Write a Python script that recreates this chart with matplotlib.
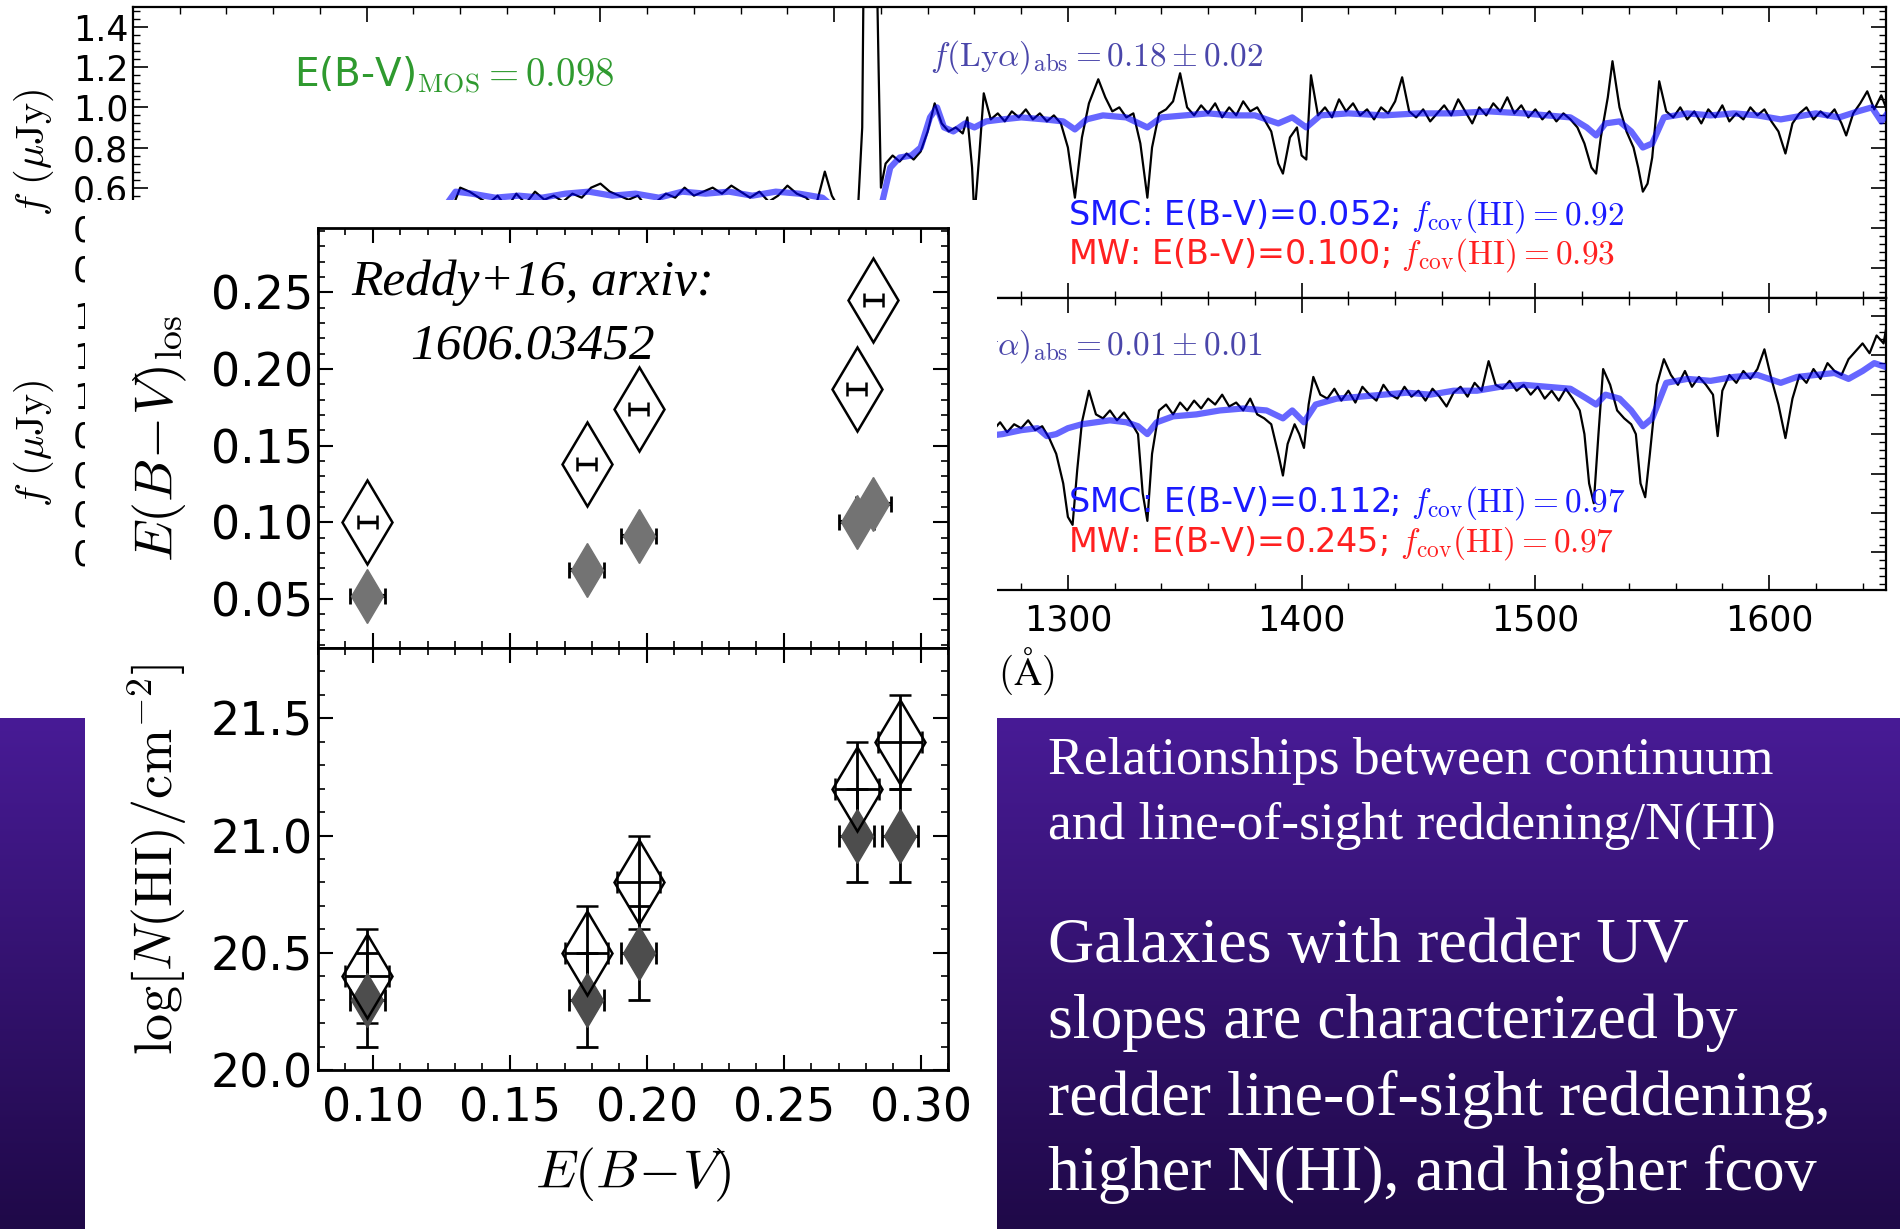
import numpy as np
import matplotlib
matplotlib.use('Agg')
import matplotlib.pyplot as plt
from matplotlib.patches import Rectangle
from matplotlib.ticker import MultipleLocator

plt.rcParams['mathtext.fontset'] = 'cm'
plt.rcParams['font.family'] = ['DejaVu Sans']

# ---- spectrum 1: E(B-V)=0.098 composite (observed, black) ----
wave_1 = [1030, 1036, 1040, 1044, 1048, 1052, 1056, 1060, 1064, 1068, 1072, 1076, 1080, 1084, 1088, 1092,
          1096, 1100, 1104, 1108, 1112, 1116, 1120, 1124, 1128, 1132, 1136, 1140, 1144, 1148, 1152, 1156,
          1160, 1164, 1168, 1172, 1176, 1180, 1184, 1188, 1192, 1196, 1199, 1203, 1207, 1210, 1212, 1213,
          1215, 1217, 1219, 1220, 1222, 1225, 1228, 1231, 1234, 1237, 1240, 1243, 1246, 1249, 1252, 1255,
          1257, 1259, 1260, 1262, 1264, 1267, 1270, 1273, 1276, 1279, 1282, 1285, 1288, 1291, 1294, 1297,
          1300, 1303, 1306, 1309, 1313, 1316, 1319, 1322, 1325, 1328, 1331, 1334, 1336, 1339, 1342, 1345,
          1348, 1351, 1354, 1357, 1360, 1363, 1366, 1369, 1372, 1375, 1378, 1381, 1384, 1387, 1390, 1392,
          1395, 1398, 1400, 1402, 1404, 1407, 1410, 1413, 1416, 1419, 1422, 1425, 1428, 1431, 1434, 1437,
          1440, 1443, 1446, 1449, 1452, 1455, 1458, 1461, 1464, 1467, 1470, 1473, 1476, 1479, 1482, 1485,
          1488, 1491, 1494, 1497, 1500, 1503, 1506, 1509, 1512, 1515, 1518, 1521, 1524, 1526, 1528, 1531,
          1533, 1536, 1539, 1542, 1544, 1546, 1548, 1550, 1553, 1556, 1559, 1562, 1565, 1568, 1571, 1574,
          1577, 1580, 1583, 1586, 1589, 1592, 1595, 1598, 1601, 1604, 1607, 1610, 1613, 1616, 1619, 1622,
          1625, 1628, 1631, 1633, 1636, 1639, 1642, 1645, 1648, 1650]
flux_1 = [0.40, 0.48, 0.60, 0.58, 0.55, 0.52, 0.56, 0.50, 0.57, 0.52, 0.58, 0.54, 0.56, 0.53, 0.57, 0.55,
          0.60, 0.62, 0.58, 0.56, 0.54, 0.56, 0.50, 0.53, 0.57, 0.55, 0.60, 0.56, 0.58, 0.60, 0.57, 0.61,
          0.58, 0.55, 0.58, 0.53, 0.56, 0.61, 0.57, 0.55, 0.50, 0.68, 0.56, 0.48, 0.40, 0.45, 0.90, 2.20,
          3.00, 2.50, 1.20, 0.60, 0.72, 0.76, 0.73, 0.77, 0.74, 0.78, 0.88, 1.02, 0.92, 0.88, 0.90, 0.87,
          0.95, 0.70, 0.45, 0.75, 1.07, 0.94, 0.97, 0.93, 0.98, 0.95, 0.99, 0.94, 0.97, 0.93, 0.96, 0.92,
          0.80, 0.55, 0.85, 1.02, 1.14, 1.05, 0.98, 1.00, 0.95, 0.97, 0.82, 0.55, 0.80, 0.97, 0.99, 1.03,
          1.17, 1.00, 0.96, 1.01, 0.97, 1.02, 0.95, 1.00, 0.96, 1.03, 0.98, 1.00, 0.94, 0.88, 0.72, 0.67,
          0.85, 0.90, 0.76, 0.74, 1.16, 0.96, 1.00, 0.95, 1.04, 0.98, 1.02, 0.96, 0.99, 0.94, 1.00, 0.97,
          1.03, 1.15, 0.98, 0.95, 0.99, 0.93, 0.97, 1.01, 0.96, 1.04, 0.98, 0.92, 1.00, 0.96, 1.02, 0.98,
          1.05, 0.97, 1.01, 0.95, 0.99, 0.94, 0.98, 0.93, 0.97, 0.94, 0.90, 0.82, 0.70, 0.67, 0.85, 1.05,
          1.23, 1.00, 0.88, 0.80, 0.70, 0.58, 0.62, 0.75, 1.13, 0.98, 0.95, 1.00, 0.94, 0.98, 0.92, 0.99,
          0.95, 1.01, 0.93, 0.97, 0.94, 1.00, 0.96, 0.99, 0.93, 0.88, 0.77, 0.92, 0.97, 1.00, 0.94, 0.98,
          0.95, 0.99, 0.92, 0.86, 0.97, 1.02, 1.08, 0.99, 1.06, 1.00]
# SMC model (blue)
wave_1_model = [1030, 1038, 1045, 1055, 1065, 1075, 1085, 1095, 1105, 1115, 1125, 1135, 1145, 1155, 1165,
                1175, 1185, 1195, 1205, 1212, 1216, 1220, 1224, 1228, 1233, 1237, 1241, 1244, 1247, 1251,
                1256, 1260, 1265, 1272, 1280, 1290, 1298, 1303, 1308, 1315, 1325, 1334, 1340, 1350, 1360,
                1370, 1380, 1390, 1396, 1402, 1408, 1420, 1435, 1450, 1465, 1480, 1495, 1505, 1515, 1522,
                1526, 1530, 1536, 1541, 1546, 1550, 1555, 1565, 1575, 1585, 1595, 1605, 1610, 1620, 1630,
                1638, 1644, 1648, 1650]
flux_1_model = [0.45, 0.58, 0.57, 0.55, 0.56, 0.55, 0.57, 0.58, 0.56, 0.57, 0.55, 0.58, 0.57, 0.58, 0.56,
                0.58, 0.57, 0.55, 0.45, 0.35, 0.30, 0.50, 0.70, 0.75, 0.76, 0.80, 0.95, 1.00, 0.90, 0.88,
                0.92, 0.90, 0.93, 0.94, 0.95, 0.94, 0.93, 0.89, 0.94, 0.96, 0.95, 0.90, 0.95, 0.96, 0.97,
                0.96, 0.96, 0.92, 0.95, 0.90, 0.96, 0.97, 0.96, 0.97, 0.97, 0.98, 0.97, 0.96, 0.95, 0.90,
                0.86, 0.92, 0.93, 0.88, 0.80, 0.82, 0.95, 0.97, 0.96, 0.97, 0.96, 0.94, 0.95, 0.97, 0.95,
                0.98, 1.00, 0.93, 0.96]

# ---- spectrum 2: reddest composite (observed, black) ----
wave_2 = [1265, 1268, 1271, 1274, 1277, 1280, 1283, 1286, 1289, 1292, 1295, 1298, 1300, 1302, 1304, 1306,
          1309, 1312, 1315, 1318, 1321, 1324, 1327, 1330, 1332, 1334, 1336, 1339, 1342, 1345, 1348, 1351,
          1354, 1357, 1360, 1363, 1366, 1369, 1372, 1375, 1378, 1381, 1384, 1387, 1390, 1392, 1394, 1397,
          1399, 1401, 1403, 1405, 1408, 1411, 1414, 1417, 1420, 1423, 1426, 1429, 1432, 1435, 1438, 1441,
          1444, 1447, 1450, 1453, 1456, 1459, 1462, 1465, 1468, 1471, 1474, 1477, 1480, 1483, 1486, 1489,
          1492, 1495, 1498, 1501, 1504, 1507, 1510, 1513, 1516, 1519, 1521, 1523, 1525, 1527, 1529, 1532,
          1535, 1538, 1541, 1543, 1545, 1547, 1549, 1552, 1555, 1558, 1561, 1564, 1567, 1570, 1573, 1576,
          1578, 1580, 1583, 1586, 1589, 1592, 1595, 1598, 1601, 1604, 1607, 1610, 1613, 1616, 1619, 1622,
          1625, 1628, 1631, 1634, 1637, 1640, 1643, 1646, 1649, 1650]
flux_2 = [0.84, 0.82, 0.86, 0.81, 0.85, 0.83, 0.87, 0.82, 0.84, 0.78, 0.70, 0.55, 0.38, 0.34, 0.62, 0.86,
          1.02, 0.90, 0.88, 0.92, 0.87, 0.91, 0.86, 0.80, 0.50, 0.36, 0.70, 0.92, 0.95, 0.90, 0.96, 0.92,
          0.97, 0.93, 0.98, 0.95, 1.00, 0.94, 0.96, 0.92, 0.98, 0.90, 0.88, 0.85, 0.70, 0.59, 0.75, 0.85,
          0.80, 0.73, 0.95, 1.09, 1.00, 0.98, 1.03, 0.97, 1.02, 0.96, 1.04, 1.00, 0.97, 1.05, 1.00, 0.98,
          1.04, 0.99, 1.02, 0.97, 1.03, 0.99, 0.94, 1.01, 1.04, 0.99, 1.06, 1.02, 1.17, 1.05, 1.03, 1.07,
          1.02, 1.05, 1.00, 1.04, 0.98, 1.02, 0.97, 1.03, 0.98, 0.92, 0.80, 0.55, 0.45, 0.80, 1.13, 1.05,
          0.92, 0.88, 0.85, 0.80, 0.55, 0.48, 0.70, 1.05, 1.18, 1.10, 1.05, 1.12, 1.04, 1.09, 1.05, 1.00,
          0.79, 1.02, 1.10, 1.06, 1.12, 1.08, 1.13, 1.23, 1.08, 0.95, 0.78, 0.98, 1.10, 1.06, 1.13, 1.08,
          1.16, 1.12, 1.10, 1.18, 1.22, 1.26, 1.21, 1.30, 1.26, 1.33]
wave_2_model = [1265, 1272, 1280, 1287, 1291, 1295, 1300, 1306, 1312, 1318, 1325, 1330, 1334, 1338, 1345,
                1355, 1365, 1375, 1385, 1392, 1396, 1401, 1406, 1415, 1425, 1435, 1445, 1455, 1465, 1475,
                1485, 1495, 1505, 1515, 1522, 1526, 1530, 1536, 1541, 1546, 1550, 1556, 1565, 1575, 1585,
                1595, 1605, 1612, 1620, 1628, 1634, 1640, 1645, 1650]
flux_2_model = [0.79, 0.80, 0.82, 0.83, 0.79, 0.80, 0.83, 0.85, 0.86, 0.87, 0.86, 0.84, 0.80, 0.86, 0.89,
                0.90, 0.92, 0.93, 0.92, 0.88, 0.92, 0.86, 0.95, 0.98, 0.99, 1.00, 1.01, 1.00, 1.02, 1.02,
                1.04, 1.05, 1.04, 1.03, 0.98, 0.95, 1.00, 0.98, 0.92, 0.84, 0.88, 1.06, 1.08, 1.07, 1.09,
                1.10, 1.06, 1.09, 1.10, 1.11, 1.08, 1.12, 1.16, 1.14]

# ---- Reddy+16 line-of-sight reddening and N(HI) ----
ebv_upper = [0.098, 0.178, 0.197, 0.2766, 0.2827]
ebv_los_mw = [0.100, 0.138, 0.174, 0.187, 0.245]
ebv_los_mw_xerr = [0.0035, 0.0035, 0.0035, 0.0035, 0.0035]
ebv_los_smc = [0.052, 0.069, 0.091, 0.100, 0.112]
ebv_los_smc_xerr = [0.0065, 0.0065, 0.0065, 0.0065, 0.0065]

ebv_lower = [0.098, 0.178, 0.197, 0.2766, 0.2925]
nhi_mw = [20.4, 20.5, 20.8, 21.2, 21.4]
nhi_mw_err = [0.2, 0.2, 0.2, 0.2, 0.2]
nhi_mw_xerr = [0.008, 0.008, 0.008, 0.008, 0.008]
nhi_smc = [20.3, 20.3, 20.5, 21.0, 21.0]
nhi_smc_err = [0.2, 0.2, 0.2, 0.2, 0.2]

box_lines_top = ["Relationships between continuum", "and line-of-sight reddening/N(HI)"]
box_lines_main = ["Galaxies with redder UV", "slopes are characterized by",
                  "redder line-of-sight reddening,", "higher N(HI), and higher fcov"]

fig = plt.figure(figsize=(19, 12.29), dpi=100)
fig.patch.set_facecolor('white')

# purple slide background (bottom band)
ax_bg = fig.add_axes([0, 0, 1, 0.4158], zorder=-1)
top_c = np.array([72, 27, 150]) / 255.
bot_c = np.array([31, 9, 72]) / 255.
t = np.linspace(0, 1, 256)[:, None]
grad = (1 - t) * top_c + t * bot_c
ax_bg.imshow(grad[:, None, :].repeat(2, axis=1), aspect='auto', extent=[0, 1, 0, 1])
ax_bg.axis('off')


def style_spec(ax):
    ax.set_xlim(900, 1650)
    ax.xaxis.set_major_locator(MultipleLocator(100))
    ax.xaxis.set_minor_locator(MultipleLocator(20))
    ax.yaxis.set_major_locator(MultipleLocator(0.2))
    ax.yaxis.set_minor_locator(MultipleLocator(0.04))
    ax.tick_params(which='both', direction='in', top=True, right=True, labelsize=25)
    ax.tick_params(which='major', length=11, width=1.2)
    ax.tick_params(axis='x', pad=10)
    ax.tick_params(which='minor', length=5, width=1)
    for s in ax.spines.values():
        s.set_linewidth(1.6)
    ax.set_ylabel(r'$f\ (\mu{\rm Jy})$', fontsize=29, labelpad=12)


ax_top = fig.add_axes([0.070, 0.7575, 0.9226, 0.2368])
ax_top.plot(wave_1, flux_1, color='k', lw=1.6, zorder=2)
ax_top.plot(wave_1_model, flux_1_model, color='blue', lw=4.5, alpha=0.6, zorder=3)
style_spec(ax_top)
ax_top.set_ylim(0.05, 1.5)
ax_top.tick_params(labelbottom=False)
ax_top.text(969, 1.10, r'E(B-V)$_{\rm MOS}=0.098$', color='#2f9a2f', fontsize=28)
ax_top.text(1241, 1.21, r'$f({\rm Ly}\alpha)_{\rm abs}=0.18\pm0.02$', color='#4a46aa', fontsize=24)
ax_top.text(1300, 0.415, r'SMC: E(B-V)=0.052; $f_{\rm cov}({\rm HI})=0.92$', color='#1a1aff', fontsize=24)
ax_top.text(1300, 0.22, r'MW: E(B-V)=0.100; $f_{\rm cov}({\rm HI})=0.93$', color='#ff2020', fontsize=24)

ax_mid = fig.add_axes([0.070, 0.520, 0.9226, 0.2375])
ax_mid.plot(wave_2, flux_2, color='k', lw=1.6, zorder=2)
ax_mid.plot(wave_2_model, flux_2_model, color='blue', lw=4.5, alpha=0.6, zorder=3)
style_spec(ax_mid)
ax_mid.set_ylim(0.01, 1.49)
ax_mid.set_xlabel(r'$\lambda\ ({\rm \AA})$', fontsize=28, labelpad=6)
ax_mid.text(1241, 1.205, r'$f({\rm Ly}\alpha)_{\rm abs}=0.01\pm0.01$', color='#4a46aa', fontsize=24)
ax_mid.text(1300, 0.405, r'SMC: E(B-V)=0.112; $f_{\rm cov}({\rm HI})=0.97$', color='#1a1aff', fontsize=24)
ax_mid.text(1300, 0.205, r'MW: E(B-V)=0.245; $f_{\rm cov}({\rm HI})=0.97$', color='#ff2020', fontsize=24)

# white pasted panel on top of the spectra
fig.add_artist(Rectangle((0.0447, 0), 0.48, 0.8373, transform=fig.transFigure,
                         facecolor='white', edgecolor='none', zorder=1))


def style_scatter(ax):
    ax.set_xlim(0.08, 0.31)
    ax.xaxis.set_major_locator(MultipleLocator(0.05))
    ax.xaxis.set_minor_locator(MultipleLocator(0.01))
    ax.tick_params(which='both', direction='in', top=True, right=True, labelsize=33)
    ax.tick_params(which='major', length=11, width=1.5)
    ax.tick_params(which='minor', length=5, width=1.2)
    for s in ax.spines.values():
        s.set_linewidth(2)


diamond = 'd'
ax_u = fig.add_axes([0.1674, 0.4727, 0.3316, 0.3418], zorder=2)
ax_u.errorbar(ebv_upper, ebv_los_smc, xerr=ebv_los_smc_xerr, fmt=diamond, ms=27, color='0.45',
              mec='0.45', ecolor='k', elinewidth=3, capsize=6, capthick=2)
ax_u.errorbar(ebv_upper, ebv_los_mw, xerr=ebv_los_mw_xerr, fmt=diamond, ms=43, mfc='none', mec='k',
              mew=1.8, ecolor='k', elinewidth=2.5, capsize=5, capthick=2)
style_scatter(ax_u)
ax_u.set_ylim(0.018, 0.292)
ax_u.yaxis.set_major_locator(MultipleLocator(0.05))
ax_u.yaxis.set_minor_locator(MultipleLocator(0.01))
ax_u.tick_params(labelbottom=False)
ax_u.set_ylabel(r'$E(B\!-\!V)_{\rm los}$', fontsize=39, labelpad=16)
ax_u.text(0.341, 0.84, 'Reddy+16, arxiv:', transform=ax_u.transAxes, ha='center', va='baseline',
          fontsize=37, family='Liberation Serif', style='italic')
ax_u.text(0.341, 0.69, '1606.03452', transform=ax_u.transAxes, ha='center', va='baseline',
          fontsize=37, family='Liberation Serif', style='italic')

ax_l = fig.add_axes([0.1674, 0.1294, 0.3316, 0.3433], zorder=2)
ax_l.errorbar(ebv_lower, nhi_smc, yerr=nhi_smc_err, xerr=ebv_los_smc_xerr, fmt=diamond, ms=27,
              color='0.3', mec='0.3', ecolor='k', elinewidth=2, capsize=8, capthick=2)
ax_l.errorbar(ebv_lower, nhi_mw, yerr=nhi_mw_err, xerr=nhi_mw_xerr, fmt=diamond, ms=43, mfc='none',
              mec='k', mew=1.8, ecolor='k', elinewidth=2, capsize=8, capthick=2)
style_scatter(ax_l)
ax_l.set_ylim(20.0, 21.8)
ax_l.yaxis.set_major_locator(MultipleLocator(0.5))
ax_l.yaxis.set_minor_locator(MultipleLocator(0.1))
ax_l.tick_params(axis='x', pad=12)
ax_l.set_xlabel(r'$E(B\!-\!V)$', fontsize=39, labelpad=10)
ax_l.set_ylabel(r'$\log[N({\rm HI})/{\rm cm}^{-2}]$', fontsize=39, labelpad=16)
fig.align_ylabels([ax_u, ax_l])

# slide text
for txt, yb in zip(box_lines_top, [0.3702, 0.3177]):
    fig.text(0.5516, yb, txt, color='white', fontsize=38.5, family='Liberation Serif',
             va='baseline', zorder=3)
for txt, yb in zip(box_lines_main, [0.2174, 0.1556, 0.0924, 0.0318]):
    fig.text(0.5516, yb, txt, color='white', fontsize=46, family='Liberation Serif',
             va='baseline', zorder=3)

fig.savefig('out.png', dpi=100, facecolor='white')
